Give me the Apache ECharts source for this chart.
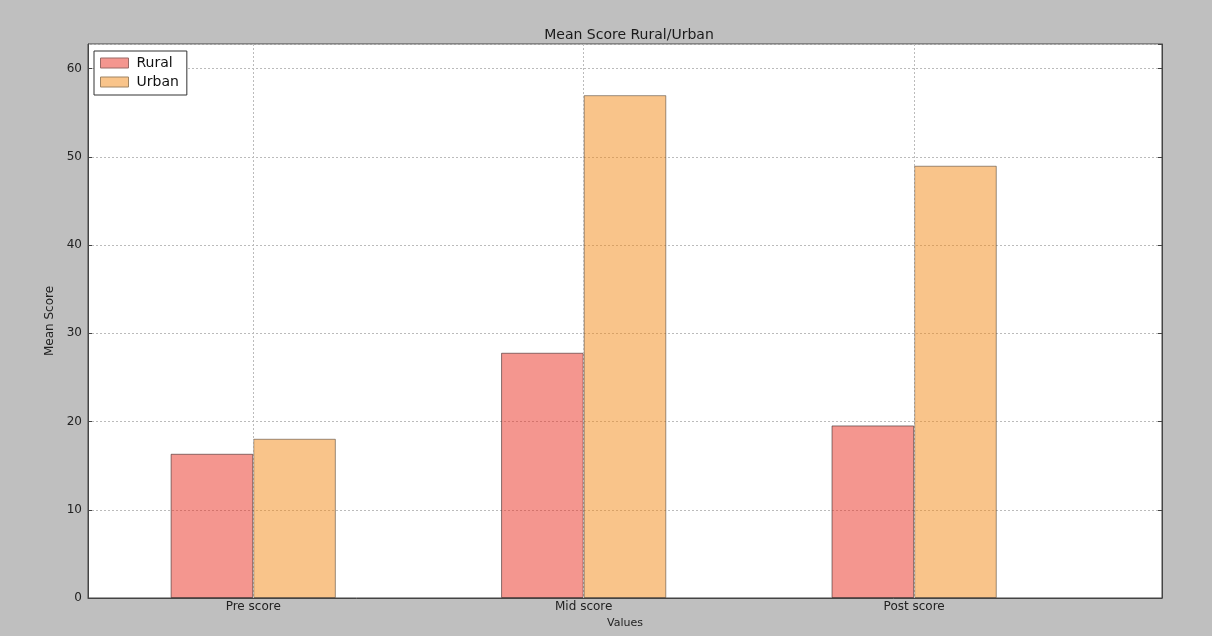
<!DOCTYPE html>
<html>
<head>
<meta charset="utf-8">
<script src="https://cdn.jsdelivr.net/npm/echarts@6/dist/echarts.min.js"></script>
<style>
html,body{margin:0;padding:0;background:#bfbfbf;}
#chart{width:1212px;height:636px;}
</style>
</head>
<body>
<div id="chart"></div>
<script>
const categories = ['Pre score', 'Mid score', 'Post score'];
const ruralValues = [16.35, 27.8, 19.56];
const urbanValues = [18.05, 57.0, 49.0];
const yTicks = [0, 10, 20, 30, 40, 50, 60];

const chart = echarts.init(document.getElementById('chart'));
const FONT = 'DejaVu Sans';
const toPairs = arr => arr.map((v, i) => [i, v]);

const gridLeft = 88, gridRight = 1212 - 1162, gridTop = 44, gridBottom = 636 - 598;
const unitPx = (1162 - 88) / 3.25;
const barW = unitPx * 0.25;

const RURAL_FILL = 'rgba(233,45,31,0.5)';
const URBAN_FILL = 'rgba(243,137,21,0.5)';

chart.setOption({
  backgroundColor: '#bfbfbf',
  animation: false,
  textStyle: { fontFamily: FONT },
  title: {
    text: 'Mean Score Rural/Urban',
    left: 624, top: 23, textAlign: 'center',
    textStyle: { fontFamily: FONT, fontSize: 14, fontWeight: 'normal', color: '#1a1a1a' }
  },
  legend: {
    orient: 'vertical',
    left: 94, top: 51,
    padding: [5, 8, 6, 6],
    itemWidth: 28, itemHeight: 10, itemGap: 5,
    icon: 'rect',
    backgroundColor: '#fff', borderColor: '#333', borderWidth: 1,
    textStyle: { fontFamily: FONT, fontSize: 14, color: '#111', padding: [0, 0, 0, 3] },
    data: [
      { name: 'Rural', itemStyle: { color: '#f4968f', borderColor: '#9a6a66', borderWidth: 1 } },
      { name: 'Urban', itemStyle: { color: '#f9c48a', borderColor: '#a08462', borderWidth: 1 } }
    ]
  },
  grid: {
    left: gridLeft, right: gridRight, top: gridTop, bottom: gridBottom,
    show: true, backgroundColor: '#fff', borderColor: '#444', borderWidth: 1
  },
  xAxis: {
    type: 'value', min: -0.5, max: 2.75, interval: 0.5,
    name: 'Values', nameLocation: 'middle', nameGap: 18,
    nameTextStyle: { fontFamily: FONT, fontSize: 11, color: '#222' },
    axisLine: { show: true, onZero: false, lineStyle: { color: '#444' } },
    axisTick: { show: false },
    splitLine: { show: false },
    axisLabel: {
      fontFamily: FONT, fontSize: 12, color: '#222', margin: 3,
      showMinLabel: true, showMaxLabel: false,
      formatter: v => (Number.isInteger(v) && v >= 0 && v < categories.length) ? categories[v] : ''
    }
  },
  yAxis: [{
    type: 'value', min: 0, max: 62.8, interval: 10,
    name: 'Mean Score', nameLocation: 'middle', nameGap: 22, nameRotate: 90,
    nameTextStyle: { fontFamily: FONT, fontSize: 12, color: '#222' },
    axisLine: { show: true, onZero: false, lineStyle: { color: '#444' } },
    axisTick: { show: true, inside: true, length: 4, lineStyle: { color: '#444' } },
    axisLabel: {
      fontFamily: FONT, fontSize: 12, color: '#222', margin: 6, showMaxLabel: false,
      formatter: v => yTicks.includes(v) ? String(v) : ''
    },
    splitLine: { show: true, lineStyle: { color: '#bbb', type: [2, 2], width: 1 } }
  }, {
    type: 'value', min: 0, max: 62.8, interval: 10, position: 'right',
    axisLine: { show: true, onZero: false, lineStyle: { color: '#444' } },
    axisTick: { show: true, inside: true, length: 4, lineStyle: { color: '#444' } },
    axisLabel: { show: false },
    splitLine: { show: false }
  }],
  series: [
    {
      name: 'Rural', type: 'bar', yAxisIndex: 0,
      data: toPairs(ruralValues),
      barWidth: barW, barGap: '0%',
      itemStyle: { color: RURAL_FILL, borderColor: 'rgba(60,40,40,0.6)', borderWidth: 1 },
      z: 3
    },
    {
      name: 'Urban', type: 'bar', yAxisIndex: 0,
      data: toPairs(urbanValues),
      barWidth: barW, barGap: '0%',
      itemStyle: { color: URBAN_FILL, borderColor: 'rgba(60,50,40,0.5)', borderWidth: 1 },
      z: 3
    },
    {
      name: 'grid-x', type: 'line', yAxisIndex: 0, data: [],
      silent: true, z: 1,
      markLine: {
        silent: true, symbol: 'none', label: { show: false },
        lineStyle: { color: '#bbb', type: [2, 2], width: 1 },
        data: categories.map((c, i) => ({ xAxis: i }))
      }
    }
  ]
});
</script>
</body>
</html>
